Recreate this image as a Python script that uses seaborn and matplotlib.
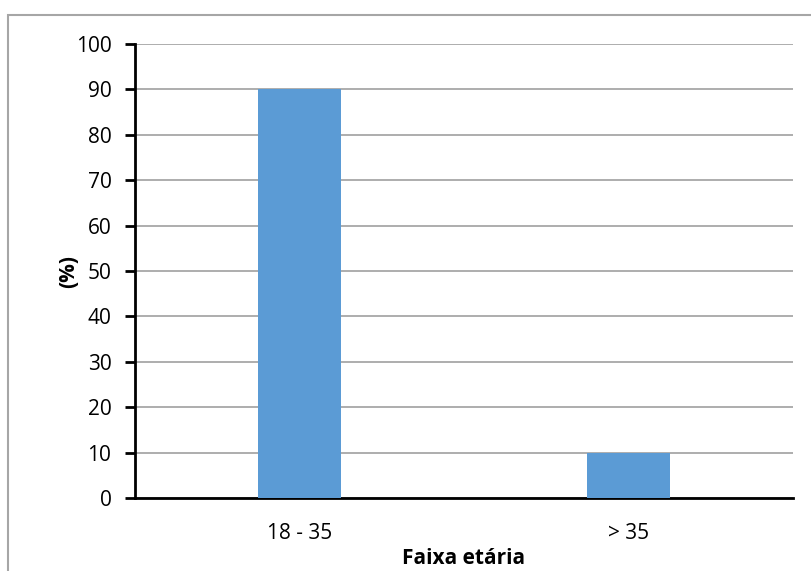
import matplotlib
matplotlib.use("Agg")
import matplotlib.pyplot as plt
from matplotlib.patches import Rectangle
import seaborn as sns
import pandas as pd

# Age-group distribution (percent of respondents)
categories = ["18 - 35", "> 35"]
percentages = [90, 10]
y_ticks = [0, 10, 20, 30, 40, 50, 60, 70, 80, 90, 100]

df = pd.DataFrame({"faixa": categories, "pct": percentages})

sns.set_theme(style="white")
plt.rcParams["font.family"] = ["Open Sans", "DejaVu Sans"]
plt.rcParams["text.color"] = "black"
plt.rcParams["xtick.color"] = "black"
plt.rcParams["ytick.color"] = "black"
plt.rcParams["axes.labelcolor"] = "black"

W, H = 812, 571
fig = plt.figure(figsize=(W / 100, H / 100), dpi=100)
fig.patch.set_facecolor("white")

# thin grey frame around the chart area
fig.add_artist(Rectangle((8 / W, -0.01), 1.02, 1 - 15 / H + 0.01,
                         transform=fig.transFigure, fill=False,
                         edgecolor="#a6a6a6", linewidth=1.5))

ax = fig.add_axes([135 / W, (H - 498) / H, (793 - 135) / W, (498 - 44) / H])

sns.barplot(data=df, x="faixa", y="pct", color="#5B9BD5", saturation=1,
            width=0.25, linewidth=0, ax=ax, zorder=3)

ax.set_xlim(-0.5, 1.5)
ax.set_ylim(0, 100)
ax.set_yticks(y_ticks)
ax.yaxis.grid(True, color="#a0a0a0", linewidth=1.2, zorder=0)
ax.set_axisbelow(True)

# category labels centred, tick marks at category boundaries
ax.set_xticks([0, 1])
ax.set_xticklabels(categories)
ax.set_xticks([-0.5, 0.5, 1.5], minor=True)
ax.tick_params(axis="x", which="major", length=0, pad=18, labelsize=15)
ax.tick_params(axis="x", which="minor", length=7, width=2, color="black", direction="out")
ax.tick_params(axis="y", length=7, width=2, color="black", direction="out",
               pad=10, labelsize=15, left=True)

for side in ["top", "right"]:
    ax.spines[side].set_visible(False)
for side in ["left", "bottom"]:
    ax.spines[side].set_color("black")
    ax.spines[side].set_linewidth(2)

ax.set_xlabel("Faixa etária", fontsize=15, fontweight="bold", labelpad=3)
ax.set_ylabel("(%)", fontsize=15, fontweight="bold")
ax.yaxis.set_label_coords(-0.085, 0.5)

fig.savefig("out.png", dpi=100, facecolor="white")
